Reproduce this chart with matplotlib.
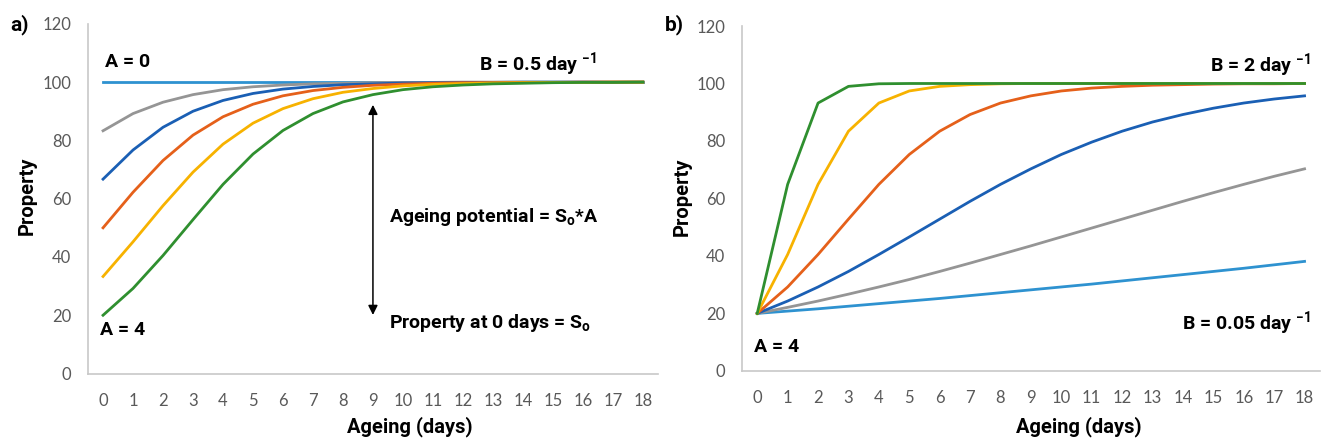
import matplotlib
matplotlib.use("Agg")
import matplotlib.pyplot as plt

plt.rcParams['font.family'] = ['Lato', 'DejaVu Sans']
plt.rcParams['mathtext.fontset'] = 'custom'
plt.rcParams['mathtext.rm'] = 'Roboto:bold'
plt.rcParams['mathtext.bf'] = 'Roboto:bold'

days = list(range(19))

# panel a) B = 0.5 day-1, different A
a_A0 = [100] * 19
a_A02 = [83.3, 89.2, 93.1, 95.7, 97.4, 98.4, 99.0, 99.4, 99.6, 99.8, 99.9, 99.9, 100, 100, 100, 100, 100, 100, 100]
a_A05 = [66.7, 76.7, 84.5, 90.0, 93.7, 96.1, 97.6, 98.5, 99.1, 99.4, 99.7, 99.8, 99.9, 99.9, 100, 100, 100, 100, 100]
a_A1 = [50.0, 62.2, 73.1, 81.8, 88.1, 92.4, 95.3, 97.1, 98.2, 98.9, 99.3, 99.6, 99.8, 99.8, 99.9, 99.9, 100, 100, 100]
a_A2 = [33.3, 45.2, 57.6, 69.1, 78.7, 85.9, 90.9, 94.3, 96.5, 97.8, 98.7, 99.2, 99.5, 99.7, 99.8, 99.9, 99.9, 100, 100]
a_A4 = [20.0, 29.2, 40.5, 52.8, 64.9, 75.3, 83.4, 89.2, 93.2, 95.7, 97.4, 98.4, 99.0, 99.4, 99.6, 99.8, 99.9, 99.9, 100]

# panel b) A = 4, different B
b_B2 = [20.0, 64.9, 93.2, 99.0, 99.9, 100, 100, 100, 100, 100, 100, 100, 100, 100, 100, 100, 100, 100, 100]
b_B1 = [20.0, 40.5, 64.9, 83.4, 93.2, 97.4, 99.0, 99.6, 99.9, 100, 100, 100, 100, 100, 100, 100, 100, 100, 100]
b_B05 = [20.0, 29.2, 40.5, 52.8, 64.9, 75.3, 83.4, 89.2, 93.2, 95.7, 97.4, 98.4, 99.0, 99.4, 99.6, 99.8, 99.9, 99.9, 100]
b_B025 = [20.0, 24.3, 29.2, 34.6, 40.5, 46.6, 52.8, 59.0, 64.9, 70.3, 75.3, 79.6, 83.4, 86.6, 89.2, 91.4, 93.2, 94.6, 95.7]
b_B0125 = [20.0, 22.1, 24.3, 26.7, 29.2, 31.8, 34.6, 37.5, 40.5, 43.5, 46.6, 49.7, 52.8, 55.9, 59.0, 62.0, 64.9, 67.7, 70.3]
b_B005 = [20.0, 20.8, 21.6, 22.5, 23.4, 24.3, 25.2, 26.2, 27.2, 28.2, 29.2, 30.2, 31.3, 32.4, 33.5, 34.6, 35.7, 36.9, 38.1]

c_lblue = '#2E92D0'
c_grey = '#959595'
c_blue = '#1A5FB4'
c_orange = '#E5601A'
c_yellow = '#F7B200'
c_green = '#2F8F2F'

fig = plt.figure(figsize=(13.22, 4.41), dpi=100)
ax1 = fig.add_axes([0.0666, 0.153, 0.431, 0.793])
ax2 = fig.add_axes([0.5613, 0.159, 0.437, 0.782])

lw = 2.0
ax1.plot(days, a_A0, color=c_lblue, lw=lw)
ax1.plot(days, a_A02, color=c_grey, lw=lw)
ax1.plot(days, a_A05, color=c_blue, lw=lw)
ax1.plot(days, a_A1, color=c_orange, lw=lw)
ax1.plot(days, a_A2, color=c_yellow, lw=lw)
ax1.plot(days, a_A4, color=c_green, lw=lw)

ax2.plot(days, b_B005, color=c_lblue, lw=lw)
ax2.plot(days, b_B0125, color=c_grey, lw=lw)
ax2.plot(days, b_B025, color=c_blue, lw=lw)
ax2.plot(days, b_B05, color=c_orange, lw=lw)
ax2.plot(days, b_B1, color=c_yellow, lw=lw)
ax2.plot(days, b_B2, color=c_green, lw=lw)

bold = dict(family=['Roboto', 'DejaVu Sans'], fontweight='bold', color='black')

for ax in (ax1, ax2):
    ax.set_xlim(-0.5, 18.5)
    ax.set_ylim(0, 120)
    ax.set_xticks(days)
    ax.set_yticks(range(0, 121, 20))
    ax.tick_params(length=0, labelsize=12, colors='#595959', pad=14)
    ax.tick_params(axis='y', pad=12)
    for s in ('top', 'right'):
        ax.spines[s].set_visible(False)
    for s in ('left', 'bottom'):
        ax.spines[s].set_color('#C8C8C8')
        ax.spines[s].set_linewidth(1.2)
    ax.set_xlabel('Ageing (days)', fontsize=14.5, va='center', **bold)
    ax.set_ylabel('Property', fontsize=14.5, va='center', **bold)

ax1.xaxis.set_label_coords(0.565, -0.153)
ax1.yaxis.set_label_coords(-0.107, 0.508)
ax2.xaxis.set_label_coords(0.583, -0.162)
ax2.yaxis.set_label_coords(-0.104, 0.504)

tk = dict(fontsize=14, **bold)
ax1.text(0.05, 106.8, 'A = 0', ha='left', va='center', **tk)
ax1.text(12.55, 106.0, r'B = 0.5 day $^{-1}$', ha='left', va='center', **tk)
ax1.text(9.55, 53.7, r'Ageing potential = S$_{\mathrm{o}}$*A', ha='left', va='center', **tk)
ax1.text(9.55, 17.3, r'Property at 0 days = S$_{\mathrm{o}}$', ha='left', va='center', **tk)
ax1.text(-0.1, 14.8, 'A = 4', ha='left', va='center', **tk)
ax1.annotate('', xy=(9, 92.2), xytext=(9, 20.1),
             arrowprops=dict(arrowstyle='<|-|>', color='black', lw=1.1,
                             mutation_scale=14, shrinkA=0, shrinkB=0))

ax2.text(18.2, 106.2, r'B = 2 day $^{-1}$', ha='right', va='center', **tk)
ax2.text(18.2, 16.5, r'B = 0.05 day $^{-1}$', ha='right', va='center', **tk)
ax2.text(-0.1, 8.3, 'A = 4', ha='left', va='center', **tk)

fig.text(0.0076, 0.943, 'a)', fontsize=15, va='center', **bold)
fig.text(0.503, 0.943, 'b)', fontsize=15, va='center', **bold)

fig.savefig('out.png', dpi=100)
